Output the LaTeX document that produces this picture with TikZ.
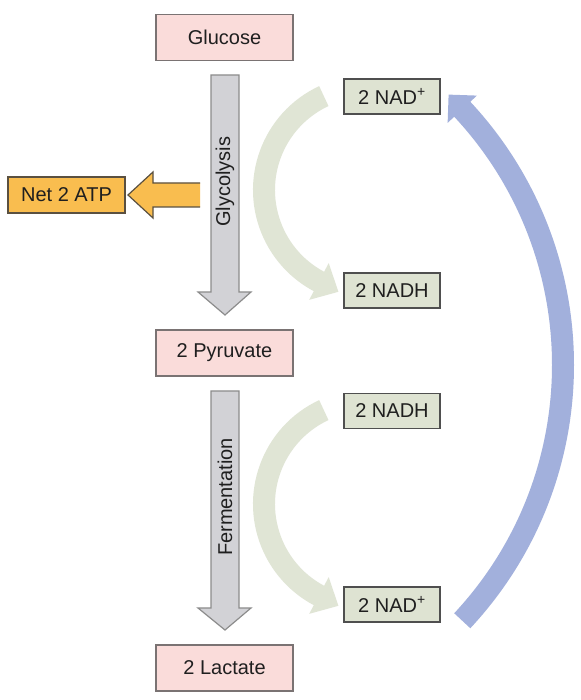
\documentclass[tikz,border=0pt]{standalone}
\usepackage{fontspec}
\setmainfont{Liberation Sans}
\usetikzlibrary{calc}
\definecolor{pinkfill}{HTML}{FADCDA}
\definecolor{pinkdraw}{HTML}{7A7373}
\definecolor{nadfill}{HTML}{DEE3D2}
\definecolor{naddraw}{HTML}{4F4F4F}
\definecolor{atpfill}{HTML}{F9BD4F}
\definecolor{atpdraw}{HTML}{5A5040}
\definecolor{grayfill}{HTML}{D2D2D6}
\definecolor{graydraw}{HTML}{8C8C8C}
\definecolor{greenarrow}{HTML}{E0E5D5}
\definecolor{bluearrow}{HTML}{A2B0DC}
\begin{document}
\begin{tikzpicture}[x=1pt,y=1pt,
  every node/.style={font=\fontsize{20}{24}\selectfont, text=black!88},
  pinkbox/.style={draw=pinkdraw, fill=pinkfill, line width=1.6pt, minimum width=137pt, minimum height=46pt, inner sep=0pt},
  nadbox/.style={draw=naddraw, fill=nadfill, line width=1.6pt, minimum width=96pt, minimum height=35pt, inner sep=0pt},
  atpbox/.style={draw=atpdraw, fill=atpfill, line width=1.6pt, minimum width=117pt, minimum height=36pt, inner sep=0pt},
  grayarrow/.style={fill=grayfill, draw=graydraw, line width=1.2pt, line join=miter},
  atparrow/.style={fill=atpfill},
  atpedge/.style={draw=atpdraw, line width=1.2pt},
  greenband/.style={fill=greenarrow},
  blueband/.style={fill=bluearrow}
]
\useasboundingbox (0,0) rectangle (580,700);
\fill[white] (0,0) rectangle (580,700);

% centres of the curved arrows
\coordinate (c1) at (367.6,510);
\coordinate (c2) at (367.6,196);
\coordinate (c3) at (188,335);

% green curved arrows
\fill[greenband] ($(c1)+(115:114.6)$) arc[start angle=115,end angle=242,radius=114.6]
  -- ($(c1)+(242:124.4)$) -- ($(c1)+(242:103.6)+(332:22)$) -- ($(c1)+(242:82.8)$)
  -- ($(c1)+(242:92.6)$) arc[start angle=242,end angle=115,radius=92.6] -- cycle;
\fill[greenband] ($(c2)+(115:114.6)$) arc[start angle=115,end angle=242,radius=114.6]
  -- ($(c2)+(242:124.4)$) -- ($(c2)+(242:103.6)+(332:22)$) -- ($(c2)+(242:82.8)$)
  -- ($(c2)+(242:92.6)$) arc[start angle=242,end angle=115,radius=92.6] -- cycle;

% blue curved arrow
\fill[blueband] ($(c3)+(-43:386)$) arc[start angle=-43,end angle=43,radius=386]
  -- ($(c3)+(43:395)$) -- ($(c3)+(43:375)+(133:20)$) -- ($(c3)+(43:355)$)
  -- ($(c3)+(43:364)$) arc[start angle=43,end angle=-43,radius=364] -- cycle;

% straight block arrows
\filldraw[grayarrow] (211,625) -- (239,625) -- (239,408) -- (251,408) -- (225,385)
  -- (198,408) -- (211,408) -- cycle;
\filldraw[grayarrow] (211,309) -- (239,309) -- (239,92) -- (251,92) -- (225,70)
  -- (198,92) -- (211,92) -- cycle;
\fill[atparrow] (200,517) -- (153,517) -- (153,528) -- (128,505) -- (153,482)
  -- (153,493) -- (200,493) -- cycle;
\draw[atpedge] (200,517) -- (153,517) -- (153,528) -- (128,505) -- (153,482)
  -- (153,493) -- (200,493);

\node[rotate=90] (glyc) at (225,518) {Glycolysis};
\node[rotate=90] (ferm) at (225,203) {Fermentation};

% boxes
\node[pinkbox] (glucose) at (224.5,662.5) {Glucose};
\node[pinkbox] (pyruvate) at (224.5,347) {2 Pyruvate};
\node[pinkbox] (lactate) at (224.5,32) {2 Lactate};
\node[atpbox] (atp) at (66.5,505) {Net 2 ATP};
\node[nadbox] (nad1) at (392,603.5) {2 NAD\textsuperscript{+}};
\node[nadbox] (nadh1) at (392,409.5) {2 NADH};
\node[nadbox] (nadh2) at (392,289) {2 NADH};
\node[nadbox] (nad2) at (392,95.5) {2 NAD\textsuperscript{+}};
\end{tikzpicture}
\end{document}
